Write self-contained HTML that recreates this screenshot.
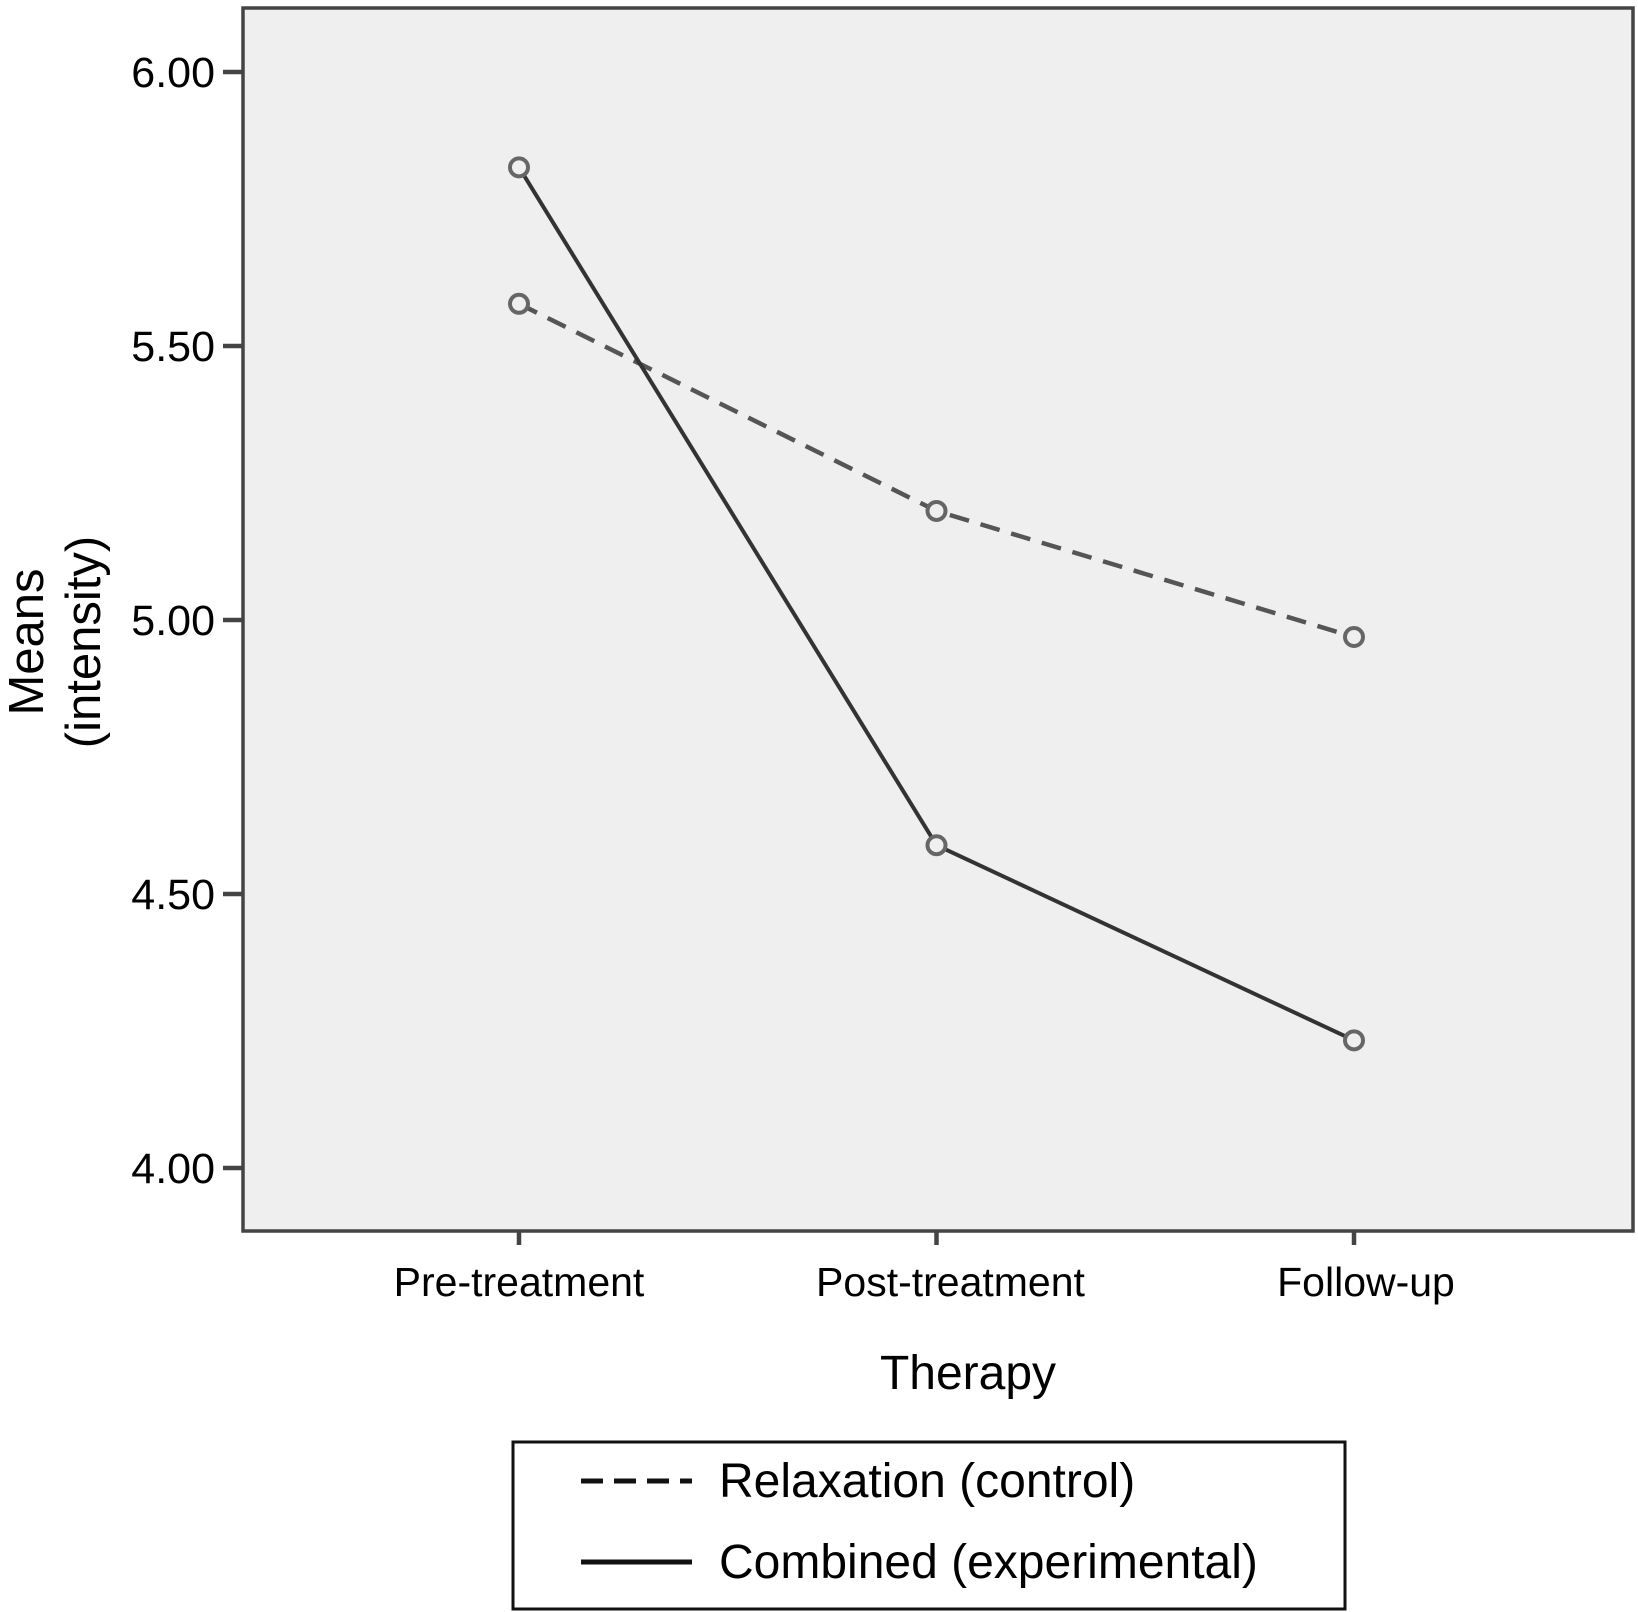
<!DOCTYPE html>
<html><head><meta charset="utf-8"><style>
body{margin:0;background:#fff}
svg{display:block;font-family:"Liberation Sans",sans-serif}
</style></head><body>
<svg id="chart" width="1638" height="1612" viewBox="0 0 1638 1612">
<rect x="243" y="8" width="1390" height="1223" fill="#efefef" stroke="#444" stroke-width="3.5"/>
<g id="yaxis"></g>
<g id="xaxis"></g>
<g id="series"></g>
<text transform="translate(43,642) rotate(-90)" text-anchor="middle" font-size="49">Means</text>
<text transform="translate(100,642) rotate(-90)" text-anchor="middle" font-size="49">(intensity)</text>
<text x="968" y="1389" text-anchor="middle" font-size="48">Therapy</text>
<g>
<rect x="513" y="1442" width="832" height="167" fill="#fff" stroke="#111" stroke-width="3"/>
<line x1="581" y1="1481" x2="692" y2="1481" stroke="#111" stroke-width="5" stroke-dasharray="22,11"/>
<text x="719" y="1497" font-size="48">Relaxation (control)</text>
<line x1="581" y1="1562" x2="692" y2="1562" stroke="#111" stroke-width="5"/>
<text x="719" y="1578" font-size="48">Combined (experimental)</text>
</g>
</svg>
<script>
const categories=["Pre-treatment","Post-treatment","Follow-up"];
const relaxation=[5.577,5.199,4.969];
const combined=[5.826,4.589,4.233];
const yTicks=[4,4.5,5,5.5,6];
const yTickLabels=["4.00","4.50","5.00","5.50","6.00"];
const NS="http://www.w3.org/2000/svg";
function y(v){return 1168-(v-4)*548;}
function x(i){return 519+i*417.5;}
function mk(t,a,p){const e=document.createElementNS(NS,t);for(const k in a)e.setAttribute(k,a[k]);p.appendChild(e);return e;}
const ya=document.getElementById('yaxis'),xa=document.getElementById('xaxis'),s=document.getElementById('series');
const labelShift=[0,14,12];
yTicks.forEach((v,i)=>{
 const t=mk('line',{x1:223,x2:243,y1:y(v),y2:y(v),stroke:'#444','stroke-width':4.5},ya);
 
 
 const l=mk('text',{x:215,y:y(v)+15,'text-anchor':'end','font-size':43},ya);
 l.textContent=yTickLabels[i];
 
 
});
categories.forEach((c,i)=>{
 const t=mk('line',{x1:x(i),x2:x(i),y1:1231,y2:1245,stroke:'#444','stroke-width':4.5},xa);
 
 
 const l=mk('text',{x:x(i)+labelShift[i],y:1296,'text-anchor':'middle','font-size':41},xa);
 l.textContent=c;
 
 
});
function draw(vals,dash,name){
 const p=mk('polyline',{points:vals.map((v,i)=>x(i)+','+y(v)).join(' '),fill:'none',stroke:dash?'#555':'#333','stroke-width':dash?4.5:4},s);
 if(dash)p.setAttribute('stroke-dasharray','20,12');
 
 
 vals.forEach((v,i)=>{
  const c=mk('circle',{cx:x(i),cy:y(v),r:9,fill:'#efefef',stroke:'#666','stroke-width':4},s);
  
  
 });
}
draw(relaxation,true,'relaxation');
draw(combined,false,'combined');
</script>
</body></html>
